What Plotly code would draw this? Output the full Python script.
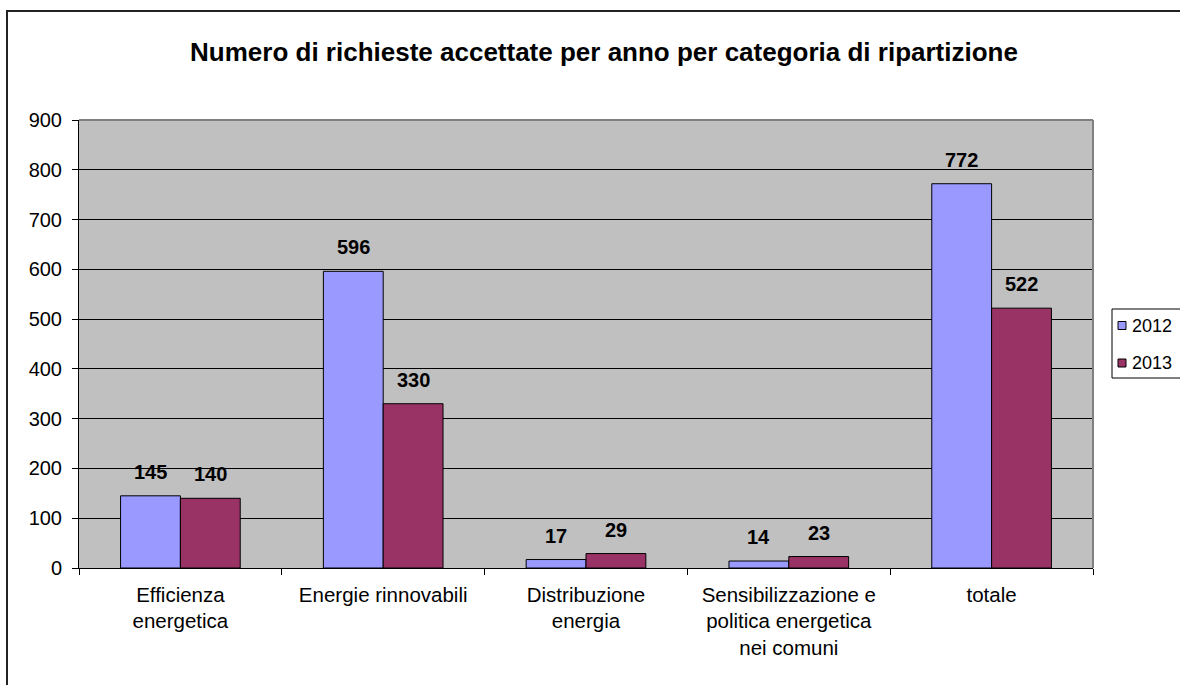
import plotly.graph_objects as go

# Categories (x-axis labels) and accepted requests per year
categories = [
    "Efficienza<br>energetica",
    "Energie rinnovabili",
    "Distribuzione<br>energia",
    "Sensibilizzazione e<br>politica energetica<br>nei comuni",
    "totale",
]
values_2012 = [145, 596, 17, 14, 772]
values_2013 = [140, 330, 29, 23, 522]
series_names = ["2012", "2013"]
series_colors = ["#9999FF", "#993366"]
y_ticks = [0, 100, 200, 300, 400, 500, 600, 700, 800, 900]

W, H = 1180, 685
L, R, T, B = 79, 1093, 120, 568  # plot area in pixels

FONT = "Liberation Sans, Arial, sans-serif"


def px_x(p):
    return (p - L) / (R - L)


def px_y(p):
    return (B - p) / (B - T)


fig = go.Figure()
for name, vals, color in zip(series_names, [values_2012, values_2013], series_colors):
    fig.add_trace(go.Bar(
        name=name, x=categories, y=vals, showlegend=False,
        marker=dict(color=color, line=dict(color="black", width=1)),
    ))

# Value labels above each bar
bar_half = 30
for vals, shift in [(values_2012, -bar_half), (values_2013, bar_half)]:
    for c, v in zip(categories, vals):
        fig.add_annotation(
            x=c, y=v, text=f"<b>{v}</b>", showarrow=False,
            xshift=shift, yshift=11, yanchor="bottom",
            font=dict(family=FONT, size=20, color="black"),
        )

# Outer chart frame
fig.add_shape(type="rect", xref="paper", yref="paper",
              x0=px_x(7), x1=px_x(1200), y0=px_y(11), y1=px_y(720),
              line=dict(color="#222222", width=2), layer="below")
# Plot area top/right border
fig.add_shape(type="line", xref="paper", yref="paper",
              x0=0, x1=1, y0=1, y1=1, line=dict(color="#808080", width=2))
fig.add_shape(type="line", xref="paper", yref="paper",
              x0=1, x1=1, y0=0, y1=1, line=dict(color="#808080", width=2))

# Legend box with swatches and series names
fig.add_shape(type="rect", xref="paper", yref="paper",
              x0=px_x(1112), x1=px_x(1200), y0=px_y(378), y1=px_y(309),
              fillcolor="white", line=dict(color="black", width=1))
for i, (name, color) in enumerate(zip(series_names, series_colors)):
    cy = 325.5 + i * 37.5
    fig.add_shape(type="rect", xref="paper", yref="paper",
                  x0=px_x(1118), x1=px_x(1126), y0=px_y(cy + 4), y1=px_y(cy - 4),
                  fillcolor=color, line=dict(color="black", width=1))
    fig.add_annotation(
        xref="paper", yref="paper", x=px_x(1130), y=px_y(cy),
        xanchor="left", yanchor="middle", text=name, showarrow=False,
        font=dict(family=FONT, size=18, color="black"),
    )

fig.update_layout(
    width=W, height=H,
    margin=dict(l=L, r=W - R, t=T, b=H - B, autoexpand=False),
    paper_bgcolor="white",
    plot_bgcolor="#C0C0C0",
    barmode="group",
    bargap=0.41,
    bargroupgap=0,
    showlegend=False,
    font=dict(family=FONT, size=20, color="black"),
    title=dict(
        text="<b>Numero di richieste accettate per anno per categoria di ripartizione</b>",
        x=604 / W, xanchor="center", xref="container",
        y=1 - 52 / H, yanchor="middle", yref="container",
        font=dict(family=FONT, size=26, color="black"),
    ),
    xaxis=dict(
        type="category",
        showline=True, linecolor="black", linewidth=1,
        ticks="outside", tickson="boundaries", ticklen=6,
        tickcolor="black", showgrid=False,
        ticklabelstandoff=8,
        tickfont=dict(family=FONT, size=20.5, color="black"),
    ),
    yaxis=dict(
        range=[0, 900], tickvals=y_ticks,
        showline=True, linecolor="black", linewidth=1,
        ticks="outside", ticklen=6, tickcolor="black",
        showgrid=True, gridcolor="black", gridwidth=1,
        zeroline=False,
        ticklabelstandoff=6,
        tickfont=dict(family=FONT, size=20, color="black"),
    ),
)

fig.write_html("out.html")
